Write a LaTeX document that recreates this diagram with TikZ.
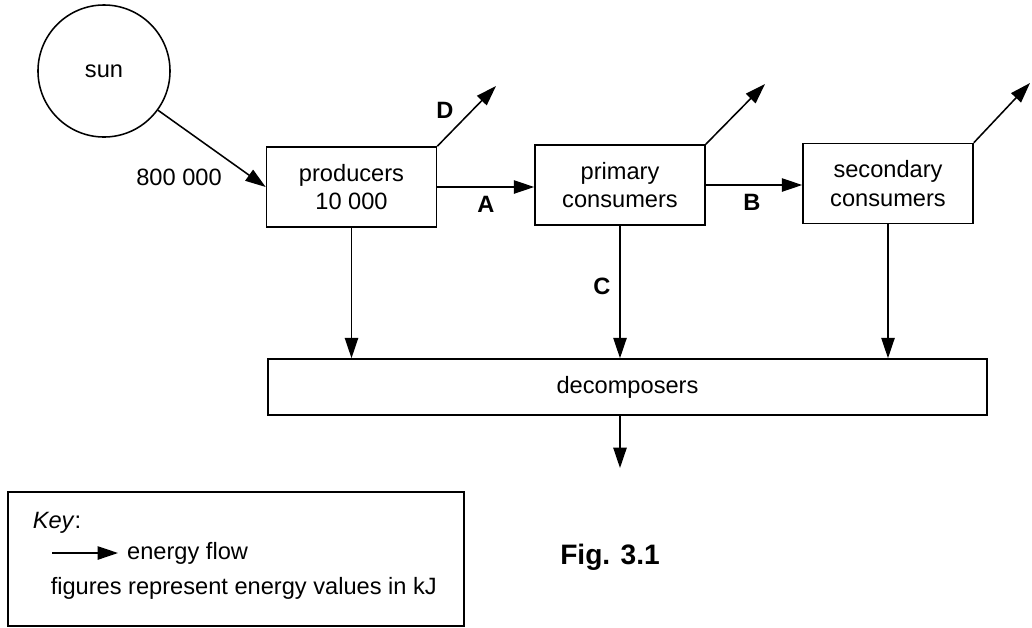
\documentclass[tikz,border=0pt]{standalone}
\usepackage{fontspec}
\setmainfont{Liberation Sans}
\usetikzlibrary{arrows.meta}
\newcommand{\flowsize}{\fontsize{16.8}{20}\selectfont}

\begin{document}
\begin{tikzpicture}[x=0.025cm, y=-0.025cm, line width=1.1pt,
    every node/.style={font=\flowsize},
    flow/.style={-{Triangle[length=14.5pt,width=9.5pt]}},
    level/.style={draw, rectangle, minimum width=4.25cm, minimum height=2cm, align=center},
    tag/.style={font=\flowsize\bfseries}]
    \useasboundingbox (0,0) rectangle (1032,627);

    % Sun and the three feeding levels
    \node[draw, circle, minimum size=3.3cm] (sun) at (104,71) {sun};
    \node[level] (prod) at (351.5,187) {producers\\10 000};
    \node[level] (prim) at (620,185) {primary\\consumers};
    \node[level] (sec) at (888,183.5) {secondary\\consumers};
    \node[draw, minimum width=17.975cm, minimum height=1.4cm] (dec) at (627.5,387) {decomposers};

    % Energy in, along the chain, and lost upwards
    \draw [flow] (sun.-36) -- (prod.west);
    \node (sunval) at (179,177) {800 000};
    \draw [flow] (prod.east) -- (prod.east -| prim.west);
    \draw [flow] (prim.east) -- (prim.east -| sec.west);
    \coordinate (prodloss) at (496,86);
    \coordinate (primloss) at (765,84);
    \coordinate (secloss) at (1030,83);
    \draw [flow] (prod.north east) -- (prodloss);
    \draw [flow] (prim.north east) -- (primloss);
    \draw [flow] (sec.north east) -- (secloss);

    % Down to the decomposers and out
    \draw [flow] (prod.south) -- (prod.south |- dec.north);
    \draw [flow] (prim.south) -- (prim.south |- dec.north);
    \draw [flow] (sec.south) -- (sec.south |- dec.north);
    \coordinate (decloss) at (620,468);
    \draw [flow] (dec.south -| prim.south) -- (decloss);

    % Letters
    \node[tag] (D) at (445,110) {D};
    \node[tag] (A) at (486,204) {A};
    \node[tag] (B) at (752,202) {B};
    \node[tag] (C) at (602,286) {C};

    % Key
    \node[draw, minimum width=11.4cm, minimum height=3.35cm] (key) at (236,559) {};
    \node[anchor=west, inner sep=0pt] (keyhead) at (32,523) {\textit{Key}:};
    \coordinate (keytail) at (52,553);
    \node[anchor=west, inner xsep=6pt, inner ysep=0pt] (keyflow) at (118,553) {energy flow};
    \draw [flow] (keytail) -- (keyflow.west);
    \node[anchor=west, inner sep=0pt] (keynote) at (50,588) {figures represent energy values in kJ};

    \node[font=\fontsize{20}{24}\selectfont\bfseries] (fig) at (610,557) {Fig. 3.1};
\end{tikzpicture}
\end{document}
